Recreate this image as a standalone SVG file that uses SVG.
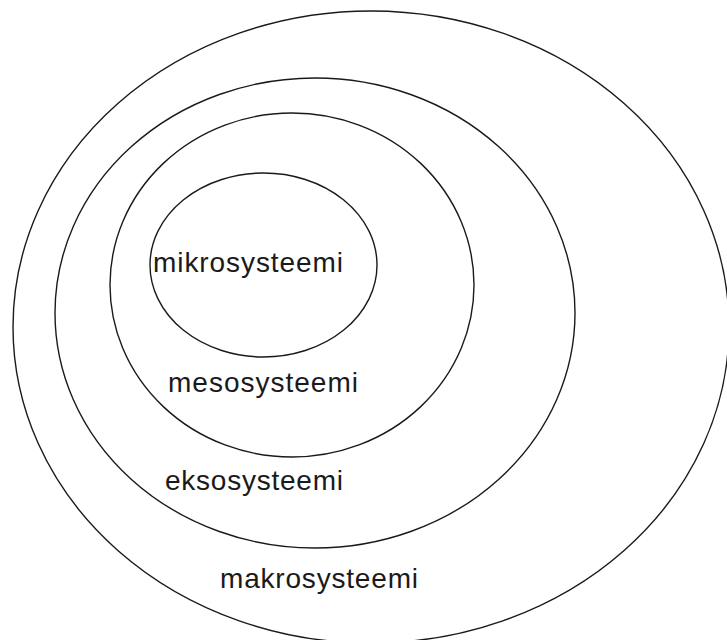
<svg xmlns="http://www.w3.org/2000/svg" width="727" height="640" viewBox="0 0 727 640">
<style>
.ring{fill:none;stroke:#1a1a1a;stroke-width:1.4}
.lbl{font-family:"Liberation Sans",Arial,sans-serif;font-size:28px;fill:#1a1a1a}
</style>
<rect width="727" height="640" fill="#ffffff"/>
<g id="makrosysteemi">
<ellipse class="ring" cx="371" cy="327" rx="358" ry="316"/>
<text class="lbl" x="220" y="588" textLength="198">makrosysteemi</text>
</g>
<g id="eksosysteemi">
<ellipse class="ring" cx="315" cy="313" rx="260" ry="235"/>
<text class="lbl" x="165" y="490" textLength="178">eksosysteemi</text>
</g>
<g id="mesosysteemi">
<ellipse class="ring" cx="292" cy="285" rx="182" ry="172"/>
<text class="lbl" x="168" y="392" textLength="190">mesosysteemi</text>
</g>
<g id="mikrosysteemi">
<ellipse class="ring" cx="263.5" cy="265" rx="113.5" ry="92"/>
<text class="lbl" x="153" y="272" textLength="190">mikrosysteemi</text>
</g>
<g id="connectors"/>
</svg>
